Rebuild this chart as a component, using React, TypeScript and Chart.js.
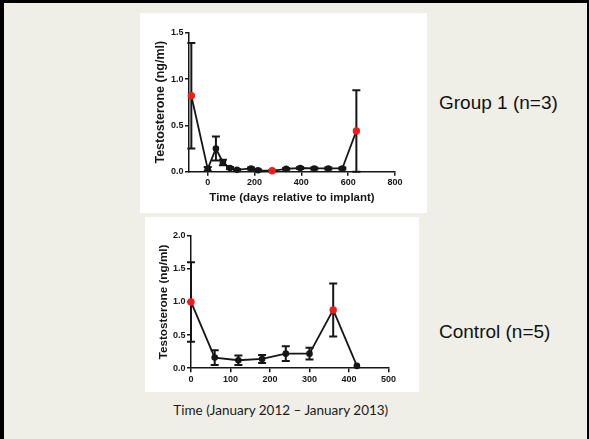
import React, { useEffect, useRef } from 'react';
import { Chart, registerables } from 'chart.js';
Chart.register(...registerables);

// Group 1 (n=3): time in days relative to implant
const topDays = [-70, 0, 35, 65, 95, 125, 185, 215, 275, 335, 395, 455, 515, 575, 635];
const topValues = [0.82, 0.03, 0.25, 0.1, 0.04, 0.02, 0.035, 0.015, 0.01, 0.03, 0.04, 0.035, 0.035, 0.035, 0.44];
const topErrors = [0.57, 0.02, 0.13, 0.03, 0.01, 0.01, 0.01, 0.01, 0.005, 0.01, 0.01, 0.01, 0.01, 0.01, 0.44];
const topRed = [0, 8, 14];
const topXTicks = [0, 200, 400, 600, 800];
const topYTicks = [0, 0.5, 1.0, 1.5];

// Control (n=5)
const controlDays = [0, 60, 120, 180, 240, 300, 360, 420];
const controlValues = [1.0, 0.16, 0.12, 0.14, 0.22, 0.22, 0.88, 0.035];
const controlErrors = [0.6, 0.11, 0.07, 0.06, 0.11, 0.09, 0.4, 0];
const controlRed = [0, 6];
const controlXTicks = [0, 100, 200, 300, 400, 500];
const controlYTicks = [0, 0.5, 1.0, 1.5, 2.0];

const INK = '#161616';
const RED = '#f21c1c';

const errorBarPlugin = {
  id: 'errorBars',
  beforeDatasetsDraw(chart: any) {
    const ctx = chart.ctx;
    const xs = chart.scales.x;
    const ys = chart.scales.y;
    chart.data.datasets.forEach((ds: any) => {
      const errs = ds.errors || [];
      ds.data.forEach((p: any, i: number) => {
        const e = errs[i];
        if (!e) return;
        const x = xs.getPixelForValue(p.x);
        const yT = ys.getPixelForValue(p.y + e);
        const yB = ys.getPixelForValue(Math.max(0, p.y - e));
        ctx.save();
        ctx.strokeStyle = INK;
        ctx.lineWidth = 2;
        ctx.beginPath();
        ctx.moveTo(x, yT);
        ctx.lineTo(x, yB);
        ctx.moveTo(x - 4, yT);
        ctx.lineTo(x + 4, yT);
        ctx.moveTo(x - 4, yB);
        ctx.lineTo(x + 4, yB);
        ctx.stroke();
        ctx.restore();
      });
    });
  },
};

type Params = {
  xs: number[];
  ys: number[];
  errs: number[];
  red: number[];
  xMin: number;
  xMax: number;
  yMax: number;
  xTicks: number[];
  yTicks: number[];
  xTitle?: string;
  yTitle: string;
  yTitleSize: number;
  yTitlePad: number;
  xTitleSize: number;
  xTitlePad: number;
  padTop: number;
  padRight: number;
  yAxisWidth: number;
  xAxisHeight: number;
};

function makeConfig(p: Params): any {
  const data = p.xs.map((x, i) => ({ x, y: p.ys[i] }));
  const colors = p.xs.map((_, i) => (p.red.includes(i) ? RED : INK));
  const radii = p.xs.map((_, i) => (p.red.includes(i) ? 3.7 : 3.3));
  const tickFont = { family: 'Liberation Sans, Arial, sans-serif', size: 9, weight: 'bold' as const };
  return {
    type: 'line',
    data: {
      datasets: [
        {
          data,
          errors: p.errs,
          borderColor: INK,
          borderWidth: 1.8,
          pointBackgroundColor: colors,
          pointBorderColor: colors,
          pointBorderWidth: 0,
          pointRadius: radii,
          tension: 0,
          fill: false,
          clip: false,
        },
      ],
    },
    options: {
      animation: false,
      responsive: false,
      maintainAspectRatio: false,
      devicePixelRatio: 1,
      layout: { padding: { left: 0, right: p.padRight, top: p.padTop, bottom: 0 } },
      plugins: { legend: { display: false }, tooltip: { enabled: false } },
      scales: {
        x: {
          type: 'linear',
          min: p.xMin,
          max: p.xMax,
          afterBuildTicks: (s: any) => {
            s.ticks = p.xTicks.map((v) => ({ value: v }));
          },
          afterFit: (s: any) => {
            s.height = p.xAxisHeight;
          },
          ticks: {
            autoSkip: false,
            maxRotation: 0,
            padding: 1.5,
            color: INK,
            font: tickFont,
            callback: (v: any) => String(v),
          },
          grid: { drawOnChartArea: false, drawTicks: true, tickLength: 4, color: INK, lineWidth: 1.5 },
          border: { display: true, color: INK, width: 1.5 },
          title: p.xTitle
            ? {
                display: true,
                text: p.xTitle,
                color: INK,
                font: { family: 'Liberation Sans, Arial, sans-serif', size: p.xTitleSize, weight: 'bold' },
                padding: { top: 0, bottom: p.xTitlePad },
              }
            : { display: false },
        },
        y: {
          type: 'linear',
          min: 0,
          max: p.yMax,
          afterBuildTicks: (s: any) => {
            s.ticks = p.yTicks.map((v) => ({ value: v }));
          },
          afterFit: (s: any) => {
            s.width = p.yAxisWidth;
          },
          ticks: {
            padding: 1.5,
            color: INK,
            font: tickFont,
            callback: (v: any) => Number(v).toFixed(1),
          },
          grid: { drawOnChartArea: false, drawTicks: true, tickLength: 4, color: INK, lineWidth: 1.5 },
          border: { display: true, color: INK, width: 1.5 },
          title: {
            display: true,
            text: p.yTitle,
            color: INK,
            font: { family: 'Liberation Sans, Arial, sans-serif', size: p.yTitleSize, weight: 'bold' },
            padding: { top: p.yTitlePad, bottom: 0 },
          },
        },
      },
    },
    plugins: [errorBarPlugin],
  };
}

function PrismChart({ params, left, top, width, height }: { params: Params; left: number; top: number; width: number; height: number }) {
  const ref = useRef<HTMLCanvasElement | null>(null);
  useEffect(() => {
    if (!ref.current) return;
    const chart = new Chart(ref.current, makeConfig(params));
    return () => chart.destroy();
  }, []);
  return (
    <div style={{ position: 'absolute', left, top, width, height, background: '#ffffff' }}>
      <canvas ref={ref} width={width} height={height} style={{ display: 'block', width, height }} />
    </div>
  );
}

export default function App() {
  const topParams: Params = {
    xs: topDays,
    ys: topValues,
    errs: topErrors,
    red: topRed,
    xMin: -80,
    xMax: 800,
    yMax: 1.5,
    xTicks: topXTicks,
    yTicks: topYTicks,
    xTitle: 'Time (days relative to implant)',
    yTitle: 'Testosterone (ng/ml)',
    yTitleSize: 12.5,
    yTitlePad: 13,
    xTitleSize: 11.5,
    xTitlePad: 8.4,
    padTop: 19.7,
    padRight: 32,
    yAxisWidth: 49,
    xAxisHeight: 41.3,
  };
  const controlParams: Params = {
    xs: controlDays,
    ys: controlValues,
    errs: controlErrors,
    red: controlRed,
    xMin: 0,
    xMax: 500,
    yMax: 2.0,
    xTicks: controlXTicks,
    yTicks: controlYTicks,
    yTitle: 'Testosterone (ng/ml)',
    yTitleSize: 11.7,
    yTitlePad: 11.3,
    xTitleSize: 11,
    xTitlePad: 0,
    padTop: 18.7,
    padRight: 30.5,
    yAxisWidth: 46,
    xAxisHeight: 23.8,
  };
  return (
    <div style={{ position: 'fixed', left: 0, top: 0, width: 589, height: 439, background: '#000000', overflow: 'hidden', zIndex: 0 }}>
      <div style={{ position: 'absolute', left: 4, top: 3, width: 583, height: 436, background: '#efeee7' }} />
      <PrismChart params={topParams} left={140} top={13} width={287} height={200} />
      <PrismChart params={controlParams} left={145} top={217} width={274} height={175} />
      <div style={{ position: 'absolute', left: 439, top: 93, fontFamily: 'Liberation Sans, Arial, sans-serif', fontSize: 19, lineHeight: '19px', color: '#111', whiteSpace: 'nowrap' }}>
        Group 1 (n=3)
      </div>
      <div style={{ position: 'absolute', left: 439, top: 321.5, fontFamily: 'Liberation Sans, Arial, sans-serif', fontSize: 19, lineHeight: '19px', color: '#111', whiteSpace: 'nowrap' }}>
        Control (n=5)
      </div>
      <div style={{ position: 'absolute', left: 0, width: 561.6, top: 403.8, textAlign: 'center', fontFamily: 'Lato, sans-serif', fontSize: 13.5, lineHeight: '13.5px', color: '#1a1a1a', whiteSpace: 'nowrap' }}>
        Time (January 2012 – January 2013)
      </div>
    </div>
  );
}
